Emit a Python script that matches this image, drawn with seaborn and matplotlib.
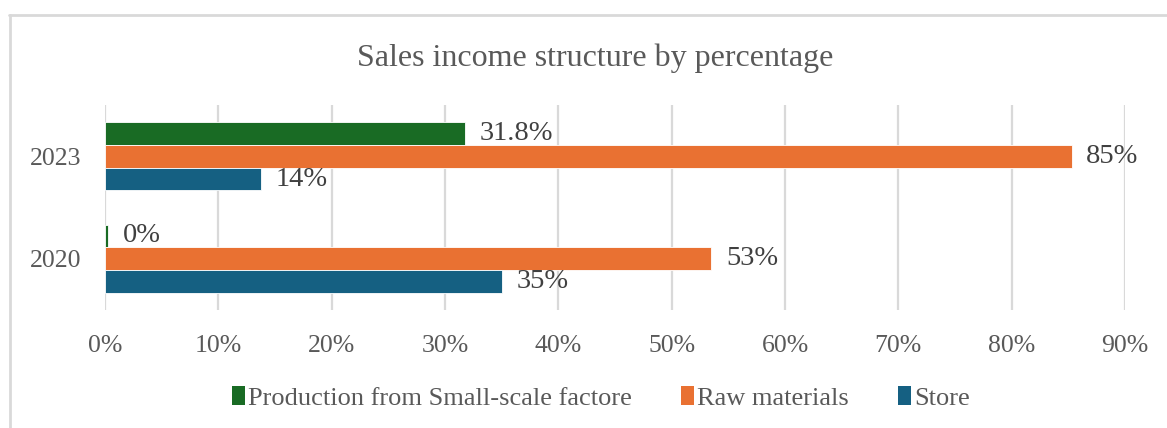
import matplotlib
matplotlib.use("Agg")
import matplotlib.pyplot as plt
import seaborn as sns
import pandas as pd
from matplotlib.patches import Patch
from matplotlib.lines import Line2D

years = ["2023", "2020"]
series = ["Production from Small-scale factore", "Raw materials", "Store"]
production = [31.8, 0.3]
raw_materials = [85.3, 53.5]
store = [13.8, 35.0]
labels_production = ["31.8%", "0%"]
labels_raw = ["85%", "53%"]
labels_store = ["14%", "35%"]
xticks = [0, 10, 20, 30, 40, 50, 60, 70, 80, 90]
xtick_labels = [f"{v}%" for v in xticks]
colors = ["#196B24", "#E97132", "#156082"]

rows = []
for s, vals in zip(series, [production, raw_materials, store]):
    for y, v in zip(years, vals):
        rows.append({"year": y, "series": s, "value": v})
df = pd.DataFrame(rows)

sns.set_theme(style="white")
plt.rcParams["font.family"] = ["Liberation Serif", "DejaVu Serif"]

fig = plt.figure(figsize=(11.67, 4.28), dpi=100)
ax = fig.add_axes([0.09, 0.2757, 0.874, 0.479])

sns.barplot(data=df, y="year", x="value", hue="series", order=years,
            hue_order=series, palette=colors, orient="h", width=0.667,
            gap=0, saturation=1, edgecolor="white", linewidth=0.6, ax=ax,
            legend=False)

ax.set_xlim(0, 90)
ax.set_ylim(1.5, -0.5)
ax.set_xticks(xticks)
ax.set_xticklabels(xtick_labels)
ax.set_xlabel("")
ax.set_ylabel("")
ax.tick_params(axis="x", labelsize=18.5, labelcolor="#595959", length=0, pad=18)
ax.tick_params(axis="y", labelsize=18.5, labelcolor="#595959", length=0, pad=17)
ax.grid(axis="x", color="#D9D9D9", linewidth=1.6)
ax.set_axisbelow(True)
for sp in ax.spines.values():
    sp.set_visible(False)

all_labels = [labels_production, labels_raw, labels_store]
for cont, labs in zip(ax.containers, all_labels):
    ax.bar_label(cont, labels=labs, padding=10.5, fontsize=20.5, color="#404040")

fig.text(0.51, 0.865, "Sales income structure by percentage",
         ha="center", va="center", fontsize=23, color="#595959")

handles = [Patch(facecolor=c, edgecolor="none") for c in colors]
fig.legend(handles, series, loc="center", bbox_to_anchor=(0.515, 0.07), ncol=3,
           frameon=False, fontsize=19, handlelength=0.5, handleheight=0.7,
           handletextpad=0.12, columnspacing=1.85, labelcolor="#595959")

fig.add_artist(Line2D([0.0075, 1.0], [1 - 15 / 428, 1 - 15 / 428],
                      transform=fig.transFigure, color="#D9D9D9", linewidth=2))
fig.add_artist(Line2D([0.0085, 0.0085], [0.0, 1 - 15 / 428],
                      transform=fig.transFigure, color="#D9D9D9", linewidth=2))

fig.savefig("out.png", dpi=100, facecolor="white")
